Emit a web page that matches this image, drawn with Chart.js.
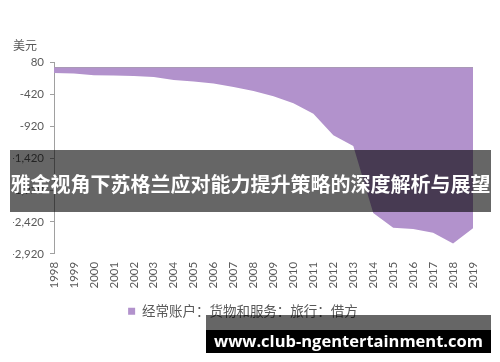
<!DOCTYPE html>
<html>
<head>
<meta charset="utf-8">
<script src="https://cdn.jsdelivr.net/npm/chart.js@4"></script>
<style>
  html, body { margin: 0; padding: 0; background: #fff; overflow: hidden; }
  #wrap { position: relative; width: 500px; height: 362px; }
  .banner {
    position: absolute; left: 10px; top: 150px; width: 481px; height: 62px;
    background: rgba(0, 0, 0, 0.6); color: #fff;
    font: bold 20px "Noto Sans CJK SC", sans-serif;
    display: flex; align-items: center; justify-content: center;
    white-space: nowrap; padding-top: 4px; box-sizing: border-box;
  }
  .site-top {
    position: absolute; left: 206px; top: 315px; width: 285px; height: 15px;
    background: rgba(0, 0, 0, 0.6);
  }
  .site {
    position: absolute; left: 206px; top: 330px; width: 285px; height: 23px;
    background: #000; color: #fff;
    font: bold 16.5px "Open Sans", sans-serif;
    display: flex; align-items: center; justify-content: center;
    white-space: nowrap; padding-bottom: 3px; box-sizing: border-box;
  }
</style>
</head>
<body>
<div id="wrap">
  <canvas id="chart" width="500" height="362"></canvas>
</div>
<script>
// years on the category axis
const years = ['1998', '1999', '2000', '2001', '2002', '2003', '2004', '2005', '2006', '2007', '2008',
               '2009', '2010', '2011', '2012', '2013', '2014', '2015', '2016', '2017', '2018', '2019'];

// 经常账户：货物和服务：旅行：借方 (美元)
const travelDebit = [-85, -95, -120, -125, -135, -150, -195, -220, -250, -305, -370,
                     -450, -560, -725, -1060, -1230, -2280, -2510, -2530, -2590, -2760, -2520];

const seriesName = '经常账户：货物和服务：旅行：借方';
const unitLabel = '美元';
const bannerText = '雅金视角下苏格兰应对能力提升策略的深度解析与展望';
const siteText = 'www.club-ngentertainment.com';

const yMin = -2920;
const yMax = 80;
const yStep = 500;

const fillColor = 'rgb(178, 146, 204)';
const axisColor = '#a0a0a0';
const textColor = '#595959';
const tickFont = { family: 'Lato, "Liberation Sans", sans-serif', size: 11.5 };

const ctx = document.getElementById('chart').getContext('2d');

const chart = new Chart(ctx, {
    type: 'line',
    data: {
        labels: years,
        datasets: [{
            label: seriesName,
            data: travelDebit,
            xAxisID: 'x',
            yAxisID: 'y',
            fill: 'origin',
            backgroundColor: fillColor,
            borderWidth: 0,
            borderColor: fillColor,
            pointRadius: 0,
            tension: 0
        }]
    },
    options: {
        responsive: false,
        animation: false,
        layout: { padding: { left: 13, right: 27, top: 0, bottom: 34 } },
        plugins: {
            title: {
                display: true,
                text: unitLabel,
                align: 'start',
                color: textColor,
                font: { family: '"Noto Sans CJK SC", sans-serif', size: 12, weight: 'normal' },
                padding: { top: 38, bottom: 10 }
            },
            legend: {
                position: 'bottom',
                labels: {
                    color: textColor,
                    font: { family: '"Noto Sans CJK SC", sans-serif', size: 13.5 },
                    boxWidth: 7,
                    boxHeight: 7,
                    padding: 8
                }
            },
            tooltip: { enabled: false }
        },
        scales: {
            y: {
                min: yMin,
                max: yMax,
                position: 'left',
                ticks: {
                    stepSize: yStep,
                    color: textColor,
                    font: tickFont,
                    padding: 6
                },
                grid: { drawOnChartArea: false, drawTicks: true, tickLength: 4, color: axisColor },
                border: { display: true, color: axisColor, width: 1 },
                afterFit: (scale) => { scale.width = 41; }
            },
            // zero line: a one-tick axis whose only grid line sits at 0, drawn above the fill
            yZero: {
                type: 'linear',
                min: yMin,
                max: yMax,
                position: 'right',
                z: 1,
                ticks: { display: false },
                grid: { drawOnChartArea: true, drawTicks: false, color: axisColor, lineWidth: 1.5 },
                border: { display: false },
                afterBuildTicks: (scale) => { scale.ticks = [{ value: 0 }]; },
                afterFit: (scale) => { scale.width = 0; }
            },
            // year labels along the bottom, no axis line
            x: {
                type: 'category',
                offset: false,
                position: 'bottom',
                ticks: {
                    color: textColor,
                    font: tickFont,
                    minRotation: 90,
                    maxRotation: 90,
                    autoSkip: false,
                    padding: 8
                },
                grid: { display: false, drawTicks: false },
                border: { display: false }
            }
        }
    }
});

// overlays on top of the chart
const wrap = document.getElementById('wrap');
function addDiv(cls, text) {
    const d = document.createElement('div');
    d.className = cls;
    if (text) d.textContent = text;
    wrap.appendChild(d);
}
addDiv('banner', bannerText);
addDiv('site-top');
addDiv('site', siteText);
</script>
</body>
</html>
